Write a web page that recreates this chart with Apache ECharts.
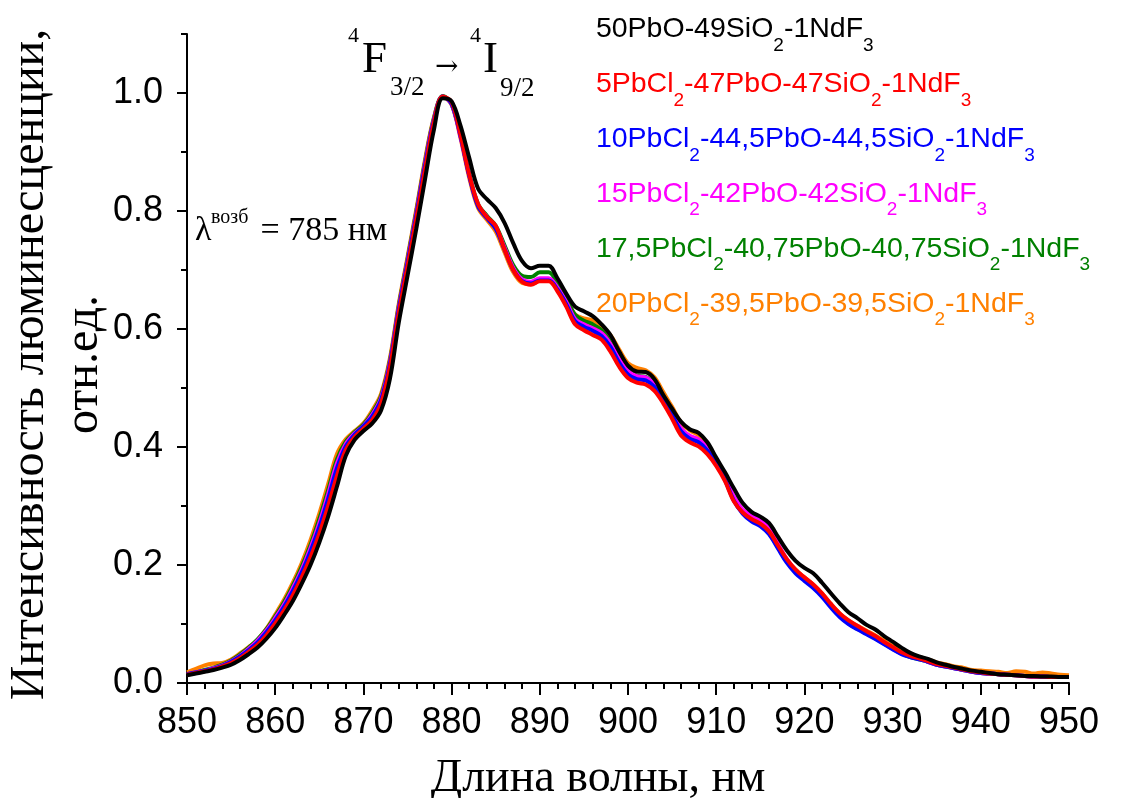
<!DOCTYPE html>
<html>
<head>
<meta charset="utf-8">
<script src="https://cdn.jsdelivr.net/npm/echarts@6/dist/echarts.min.js"></script>
<style>
html,body{margin:0;padding:0;background:#fff;}
#chart{width:1144px;height:798px;}
</style>
</head>
<body>
<div id="chart"></div>
<script>
// ---- data ----
const wavelengths = Array.from({length: 101}, (_, i) => 850 + i); // sampling grid, nm
const xTicks = [850, 860, 870, 880, 890, 900, 910, 920, 930, 940, 950];
const yMajorTicks = [0, 0.2, 0.4, 0.6, 0.8, 1.0];

const names = [
  '50PbO-49SiO2-1NdF3',
  '5PbCl2-47PbO-47SiO2-1NdF3',
  '10PbCl2-44,5PbO-44,5SiO2-1NdF3',
  '15PbCl2-42PbO-42SiO2-1NdF3',
  '17,5PbCl2-40,75PbO-40,75SiO2-1NdF3',
  '20PbCl2-39,5PbO-39,5SiO2-1NdF3'
];
const colors = ['#000000', '#ff0000', '#0000ff', '#ff00ff', '#008000', '#ff8000'];

const black = [
  .013,.016,.019,.022,.026,.031,.039,.049,.060,.075,
  .093,.115,.139,.168,.200,.238,.282,.333,.385,.412,
  .427,.440,.462,.515,.610,.690,.770,.855,.938,.991,
  .986,.945,.890,.838,.820,.805,.780,.745,.715,.703,
  .707,.707,.686,.660,.638,.630,.622,.608,.590,.562,
  .538,.528,.527,.515,.488,.465,.443,.430,.424,.408,
  .382,.357,.330,.305,.290,.282,.271,.248,.225,.207,
  .195,.186,.170,.152,.135,.120,.110,.099,.091,.080,
  .070,.060,.051,.045,.041,.035,.031,.027,.024,.021,
  .019,.017,.015,.014,.013,.012,.012,.011,.011,.010,
  .010
];
const red = [
  .014,.017,.020,.023,.028,.034,.042,.053,.065,.081,
  .101,.123,.149,.179,.213,.253,.300,.351,.395,.417,
  .431,.446,.474,.535,.626,.706,.787,.872,.950,.994,
  .985,.930,.862,.812,.790,.775,.735,.700,.680,.675,
  .681,.681,.664,.638,.608,.598,.590,.582,.562,.536,
  .517,.509,.506,.495,.474,.448,.420,.408,.401,.388,
  .368,.342,.308,.289,.278,.270,.257,.233,.210,.192,
  .179,.167,.152,.134,.118,.106,.097,.088,.080,.070,
  .061,.052,.046,.042,.037,.032,.029,.026,.023,.020,
  .018,.016,.015,.014,.013,.012,.011,.011,.010,.010,
  .010
];
const blue = [
  .015,.018,.021,.024,.029,.036,.045,.056,.069,.086,
  .106,.129,.156,.187,.223,.264,.312,.364,.401,.421,
  .435,.452,.480,.540,.632,.712,.793,.878,.953,.994,
  .982,.928,.860,.808,.788,.770,.735,.700,.681,.677,
  .682,.682,.667,.642,.613,.604,.597,.588,.570,.543,
  .523,.515,.513,.502,.480,.454,.427,.414,.408,.394,
  .372,.344,.309,.287,.274,.266,.252,.228,.204,.186,
  .173,.161,.146,.128,.112,.100,.091,.083,.075,.066,
  .057,.049,.044,.040,.036,.031,.028,.025,.022,.019,
  .017,.016,.015,.014,.013,.012,.011,.011,.010,.010,
  .010
];
const magenta = [
  .015,.018,.021,.025,.030,.037,.046,.058,.072,.089,
  .110,.133,.161,.192,.229,.271,.320,.372,.405,.423,
  .436,.455,.483,.543,.635,.715,.796,.881,.955,.994,
  .981,.926,.860,.810,.790,.772,.738,.703,.684,.680,
  .686,.686,.670,.646,.617,.608,.601,.593,.575,.549,
  .529,.520,.518,.506,.484,.458,.432,.419,.413,.399,
  .377,.350,.316,.294,.284,.277,.263,.236,.210,.191,
  .178,.166,.150,.131,.115,.102,.093,.085,.077,.068,
  .058,.050,.045,.041,.036,.031,.028,.025,.022,.019,
  .017,.016,.015,.014,.013,.012,.011,.011,.010,.010,
  .010
];
const green = [
  .015,.018,.022,.026,.031,.038,.048,.060,.074,.091,
  .113,.137,.165,.197,.234,.278,.327,.379,.409,.425,
  .438,.458,.486,.546,.638,.718,.799,.884,.957,.995,
  .981,.928,.862,.812,.792,.775,.742,.708,.690,.688,
  .696,.696,.678,.652,.624,.614,.608,.598,.578,.551,
  .530,.521,.519,.507,.484,.458,.431,.418,.412,.397,
  .374,.346,.311,.289,.277,.268,.254,.230,.206,.188,
  .175,.163,.148,.130,.114,.101,.092,.084,.076,.067,
  .058,.050,.044,.040,.036,.031,.028,.025,.022,.019,
  .017,.016,.015,.014,.013,.012,.011,.011,.010,.010,
  .010
];
const orange = [
  .018,.024,.030,.033,.034,.040,.050,.061,.073,.092,
  .116,.141,.170,.203,.242,.287,.337,.388,.413,.427,
  .440,.462,.490,.550,.642,.722,.803,.888,.959,.994,
  .980,.924,.856,.805,.785,.765,.730,.696,.678,.676,
  .682,.684,.672,.650,.625,.618,.615,.605,.590,.565,
  .542,.534,.530,.518,.493,.468,.442,.428,.420,.404,
  .378,.350,.314,.292,.280,.272,.258,.234,.210,.192,
  .179,.167,.152,.134,.118,.106,.097,.089,.081,.072,
  .063,.055,.049,.044,.040,.035,.032,.028,.026,.022,
  .021,.020,.019,.017,.020,.019,.016,.018,.016,.014,
  .013
];
const seriesValues = [black, red, blue, magenta, green, orange];

// ---- helpers ----
function richName(n) {
  const parts = n.split(/(?<=Cl|SiO|NdF)(\d)/);
  return parts.map((p, i) => (i % 2 === 1) ? '{s|' + p + '}' : (p ? '{m|' + p + '}' : '')).join('');
}
const SANS = '"Liberation Sans", Arial, sans-serif';
const SERIF = '"Liberation Serif", "Times New Roman", serif';

// drawing order: orange first ... black last (on top)
const drawOrder = [5, 4, 3, 2, 1, 0];
const series = drawOrder.map(i => ({
  name: names[i],
  type: 'line',
  data: wavelengths.map((w, k) => [w, seriesValues[i][k]]),
  showSymbol: false,
  smooth: 0.35,
  lineStyle: {color: colors[i], width: 4},
  itemStyle: {color: colors[i]},
  z: 2 + (5 - i)
}));

const chart = echarts.init(document.getElementById('chart'), null, {renderer: 'canvas'});
const axisBlack = {color: '#000', width: 2};

chart.setOption({
  animation: false,
  backgroundColor: '#fff',
  grid: {left: 187, right: 75, top: 34, bottom: 115, containLabel: false, outerBoundsMode: 'none'},
  xAxis: {
    type: 'value',
    min: 850, max: 950, interval: 10,
    axisLine: {show: true, onZero: false, lineStyle: axisBlack},
    axisTick: {show: true, inside: false, length: 12, lineStyle: axisBlack},
    minorTick: {show: true, splitNumber: 5, length: 6, lineStyle: axisBlack},
    splitLine: {show: false},
    axisLabel: {
      margin: 22, color: '#000', fontFamily: SANS, fontSize: 36,
      customValues: xTicks
    },
    name: 'Длина волны, нм',
    nameLocation: 'middle',
    nameGap: 73,
    nameTextStyle: {fontFamily: SERIF, fontSize: 46, color: '#000', padding: [0, 60, 0, 0]}
  },
  yAxis: [
    {
      type: 'value', min: 0, max: 1.1, interval: 0.1, position: 'left',
      axisLine: {show: true, onZero: false, lineStyle: axisBlack},
      axisTick: {show: true, inside: false, length: 6, lineStyle: axisBlack},
      axisLabel: {show: false},
      splitLine: {show: false}
    },
    {
      type: 'value', min: 0, max: 1.1, interval: 0.1, position: 'left',
      axisLine: {show: false},
      axisTick: {show: true, inside: false, length: 10, lineStyle: axisBlack, customValues: yMajorTicks},
      axisLabel: {
        margin: 24, color: '#000', fontFamily: SANS, fontSize: 36,
        customValues: yMajorTicks,
        formatter: v => v.toFixed(1)
      },
      splitLine: {show: false},
      name: 'Интенсивность люминесценции,\nотн.ед.',
      nameLocation: 'middle',
      nameGap: 76,
      nameMoveOverlap: false,
      nameTextStyle: {fontFamily: SERIF, fontSize: 48, color: '#000', lineHeight: 54, padding: [0, 12, 0, 0]}
    }
  ],
  legend: {
    orient: 'vertical',
    left: 573, top: 12.6,
    padding: 0,
    itemGap: 12.5,
    itemWidth: 1, itemHeight: 41,
    selectedMode: false,
    itemStyle: {opacity: 0},
    lineStyle: {opacity: 0},
    data: names.map((n, i) => ({name: n, textStyle: {color: colors[i]}})),
    formatter: n => richName(n),
    textStyle: {
      fontFamily: SANS, fontSize: 28.5,
      rich: {
        m: {fontFamily: SANS, fontSize: 28.5, lineHeight: 30, verticalAlign: 'top'},
        s: {fontFamily: SANS, fontSize: 19, lineHeight: 20, padding: [21, 0, 0, 0], verticalAlign: 'top'}
      }
    }
  },
  graphic: [
    {type: 'text', x: 348, y: 36, style: {text: '4', font: '22px ' + SERIF, fill: '#000', align: 'left', verticalAlign: 'middle'}},
    {type: 'text', x: 362, y: 60, style: {text: 'F', font: '45px ' + SERIF, fill: '#000', align: 'left', verticalAlign: 'middle'}},
    {type: 'text', x: 390, y: 88, style: {text: '3/2', font: '27px ' + SERIF, fill: '#000', align: 'left', verticalAlign: 'middle'}},
    {type: 'text', x: 435, y: 68, style: {text: '→', font: '28px "DejaVu Serif", serif', fill: '#000', align: 'left', verticalAlign: 'middle'}},
    {type: 'text', x: 470, y: 36, style: {text: '4', font: '22px ' + SERIF, fill: '#000', align: 'left', verticalAlign: 'middle'}},
    {type: 'text', x: 483, y: 60, style: {text: 'I', font: '45px ' + SERIF, fill: '#000', align: 'left', verticalAlign: 'middle'}},
    {type: 'text', x: 500, y: 89, style: {text: '9/2', font: '27px ' + SERIF, fill: '#000', align: 'left', verticalAlign: 'middle'}},
    {type: 'text', x: 195, y: 231, style: {text: 'λ', font: '34px ' + SERIF, fill: '#000', align: 'left', verticalAlign: 'middle'}},
    {type: 'text', x: 211, y: 218, style: {text: 'возб', font: '20px ' + SERIF, fill: '#000', align: 'left', verticalAlign: 'middle'}},
    {type: 'text', x: 252, y: 231, style: {text: ' = 785 нм', font: '34px ' + SERIF, fill: '#000', align: 'left', verticalAlign: 'middle'}}
  ],
  series: series
});
</script>
</body>
</html>
